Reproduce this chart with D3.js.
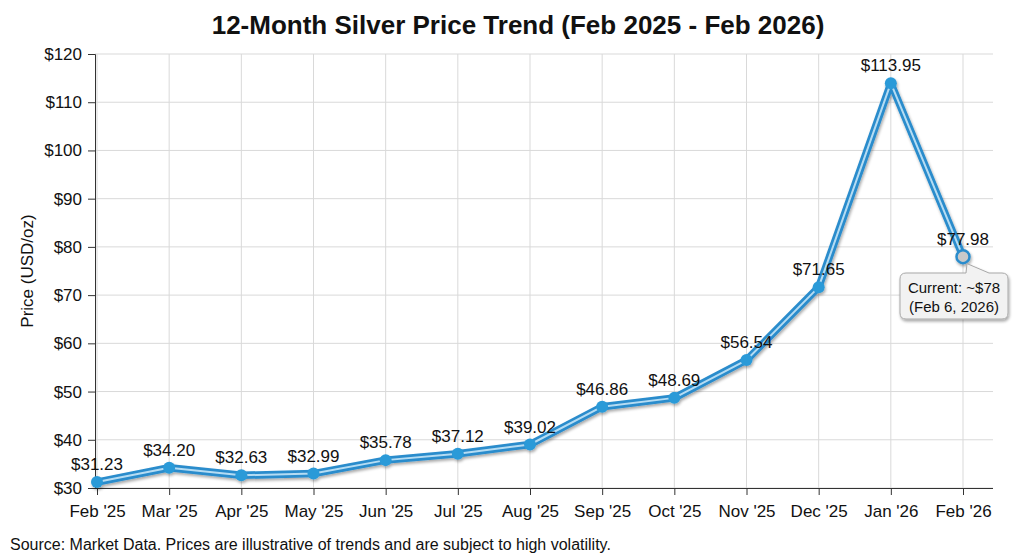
<!DOCTYPE html>
<html><head><meta charset="utf-8">
<script src="https://cdn.jsdelivr.net/npm/d3@7"></script>
<style>body{margin:0;background:#fff;}svg{display:block;font-family:"Liberation Sans",Arial,sans-serif;}</style>
</head><body>
<svg id="c" width="1024" height="559"></svg>
<script>
const months = ["Feb '25","Mar '25","Apr '25","May '25","Jun '25","Jul '25","Aug '25","Sep '25","Oct '25","Nov '25","Dec '25","Jan '26","Feb '26"];
const prices = [31.23,34.20,32.63,32.99,35.78,37.12,39.02,46.86,48.69,56.54,71.65,113.95,77.98];
const yTicks = [30,40,50,60,70,80,90,100,110,120];
const title = "12-Month Silver Price Trend (Feb 2025 - Feb 2026)";
const yLabel = "Price (USD/oz)";
const source = "Source: Market Data. Prices are illustrative of trends and are subject to high volatility.";
const callout = ["Current: ~$78","(Feb 6, 2026)"];

const svg = d3.select("#c");
const L=95, R=993, T=54, B=488;
const x = d3.scalePoint().domain(months).range([97,963]);
const y = d3.scaleLinear().domain([30,120]).range([B,T]);

const defs = svg.append("defs");
const f = defs.append("filter").attr("id","sh").attr("x","-10%").attr("y","-10%").attr("width","120%").attr("height","130%");
f.append("feGaussianBlur").attr("in","SourceAlpha").attr("stdDeviation",1.5);
f.append("feOffset").attr("dx",1).attr("dy",2).attr("result","o");
f.append("feComponentTransfer").append("feFuncA").attr("type","linear").attr("slope",0.35);
const m=f.append("feMerge"); m.append("feMergeNode"); m.append("feMergeNode").attr("in","SourceGraphic");

// title
svg.append("text").attr("x",518).attr("y",34).attr("text-anchor","middle")
  .attr("font-size",26).attr("font-weight","bold").attr("fill","#111").text(title);

// grid
const g = svg.append("g");
g.selectAll(".hg").data(yTicks).join("line").attr("x1",L).attr("x2",R)
  .attr("y1",d=>y(d)).attr("y2",d=>y(d)).attr("stroke","#d9d9d9").attr("stroke-width",1);
g.selectAll(".vg").data(months).join("line").attr("x1",d=>x(d)).attr("x2",d=>x(d))
  .attr("y1",T).attr("y2",B).attr("stroke","#d9d9d9").attr("stroke-width",1);

// axes
const ya = svg.append("g").attr("transform",`translate(${L},0)`)
  .call(d3.axisLeft(y).tickValues(yTicks).tickFormat(d=>"$"+d).tickSizeOuter(0).tickSize(7).tickPadding(6));
ya.selectAll("text").attr("font-size",17).attr("fill","#111").attr("font-family","Liberation Sans, Arial, sans-serif");
ya.selectAll("line,path").attr("stroke","#333");
const xa = svg.append("g").attr("transform",`translate(0,${B})`)
  .call(d3.axisBottom(x).tickSizeOuter(0).tickSize(7).tickPadding(10));
xa.select("path").attr("d",`M${L},0.5H${R}`);
xa.selectAll("text").attr("font-size",17).attr("fill","#111").attr("font-family","Liberation Sans, Arial, sans-serif");
xa.selectAll("line,path").attr("stroke","#333");

svg.append("text").attr("transform","translate(33,271) rotate(-90)").attr("text-anchor","middle")
  .attr("font-size",17).attr("fill","#111").text(yLabel);

// line
const line = d3.line().x((d,i)=>x(months[i])).y(d=>y(d));
const lg = svg.append("g").attr("filter","url(#sh)");
lg.append("path").datum(prices).attr("d",line).attr("fill","none").attr("stroke","#2a8ccc").attr("stroke-width",7.5).attr("stroke-linejoin","round");
lg.append("path").datum(prices).attr("d",line).attr("fill","none").attr("stroke","#b5dcf3").attr("stroke-width",2).attr("stroke-linejoin","round");
lg.selectAll("circle").data(prices).join("circle")
  .attr("cx",(d,i)=>x(months[i])).attr("cy",d=>y(d)).attr("r",(d,i)=>i===prices.length-1?6.5:6)
  .attr("fill",(d,i)=>i===prices.length-1?"#c9c9c9":"#2b9ad8")
  .attr("stroke",(d,i)=>i===prices.length-1?"#2a8ccc":"none").attr("stroke-width",2.5);

// labels
svg.selectAll(".lbl").data(prices).join("text")
  .attr("x",(d,i)=>x(months[i])).attr("y",d=>y(d)-12).attr("text-anchor","middle")
  .attr("font-size",17).attr("fill","#111").text(d=>"$"+d.toFixed(2));

// callout
const px = x(months[12]), py = y(prices[12]);
const cg = svg.append("g").attr("filter","url(#sh)");
const bx=900, by=273, bw=108, bh=46, r=6;
cg.append("path").attr("d",`M${bx+r},${by} H${px+3} L${px+4},${py+7} L${px+26},${by} H${bx+bw-r} Q${bx+bw},${by} ${bx+bw},${by+r} V${by+bh-r} Q${bx+bw},${by+bh} ${bx+bw-r},${by+bh} H${bx+r} Q${bx},${by+bh} ${bx},${by+bh-r} V${by+r} Q${bx},${by} ${bx+r},${by} Z`)
  .attr("fill","#f2f2f2").attr("stroke","#a8a8a8").attr("stroke-width",1);
svg.selectAll(".ct").data(callout).join("text").attr("x",bx+bw/2).attr("y",(d,i)=>by+20+i*19)
  .attr("text-anchor","middle").attr("font-size",15).attr("fill","#111").text(d=>d);

svg.append("text").attr("x",10).attr("y",550).attr("font-size",16).attr("fill","#111").text(source);
</script>
</body></html>
